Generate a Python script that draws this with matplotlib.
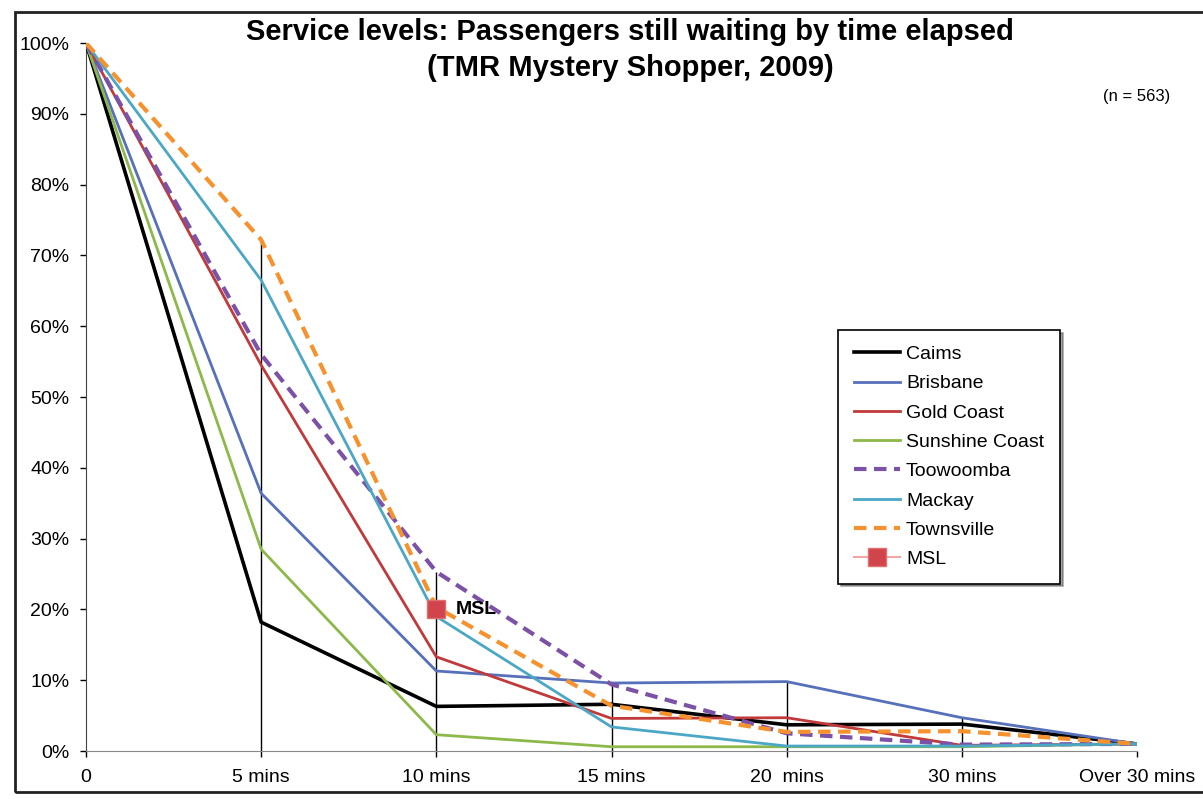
import matplotlib.pyplot as plt
from matplotlib.patches import Rectangle

plt.rcParams['font.family'] = ['Liberation Sans', 'DejaVu Sans']

# categories along the x axis
cats = ['0', '5 mins', '10 mins', '15 mins', '20  mins', '30 mins', 'Over 30 mins']

# percent of passengers still waiting
cairns    = [100, 18.2, 6.3, 6.6, 3.7, 3.8, 1.0]
brisbane  = [100, 36.4, 11.3, 9.6, 9.8, 4.7, 1.0]
goldcoast = [100, 54.5, 13.3, 4.6, 4.7, 0.8, 1.0]
sunshine  = [100, 28.5, 2.3, 0.6, 0.6, 0.6, 1.0]
toowoomba = [100, 56.0, 25.3, 9.4, 2.5, 0.9, 1.0]
mackay    = [100, 66.5, 19.0, 3.4, 0.7, 0.7, 1.0]
townsvil  = [100, 72.2, 20.3, 6.4, 2.7, 2.8, 1.0]
msl_x = 2
msl_y = 20

xs = list(range(len(cats)))

fig = plt.figure(figsize=(12.03, 7.99), dpi=100)
ax = fig.add_axes([86/1203, 1-751/799, 1051/1203, 708/799])

# outer chart border
fig.patches.append(Rectangle((15/1203, 1-792/799), 1.2, 780/799, transform=fig.transFigure,
                             fill=False, edgecolor='#222222', linewidth=2))

# drop lines from the highest series down to the axis
allseries = [cairns, brisbane, goldcoast, sunshine, toowoomba, mackay, townsvil]
for i in xs[1:-1]:
    top = max(s[i] for s in allseries)
    ax.vlines(i, 0, top, color='black', linewidth=1.0, zorder=1)

ax.plot(xs, cairns, color='black', lw=2.6, label='Caims', zorder=3)
ax.plot(xs, brisbane, color='#5670BA', lw=2.0, label='Brisbane', zorder=3)
ax.plot(xs, goldcoast, color='#C0393B', lw=2.0, label='Gold Coast', zorder=3)
ax.plot(xs, sunshine, color='#8DB84A', lw=2.0, label='Sunshine Coast', zorder=3)
ax.plot(xs, toowoomba, color='#7B52A6', lw=3.0, ls=(0, (3, 1.8)), label='Toowoomba', zorder=3)
ax.plot(xs, mackay, color='#4AA7C6', lw=2.0, label='Mackay', zorder=3)
ax.plot(xs, townsvil, color='#F6922E', lw=3.0, ls=(0, (3, 1.8)), label='Townsville', zorder=3)
ax.plot([msl_x], [msl_y], color='#F2A6A6', lw=1.5, marker='s', markersize=13,
        markerfacecolor='#D2444C', markeredgecolor='#E07070', label='MSL', zorder=4)
ax.text(msl_x + 0.11, msl_y, 'MSL', fontsize=14, fontweight='bold', va='center', ha='left', zorder=5)

ax.set_xlim(0, 6)
ax.set_ylim(0, 100)
ax.set_yticks(range(0, 101, 10))
ax.set_yticklabels([str(v) + '%' for v in range(0, 101, 10)], fontsize=14)
ax.set_xticks(xs)
ax.set_xticklabels(cats, fontsize=14)
ax.tick_params(axis='y', length=4, width=1, pad=8)
ax.tick_params(axis='x', length=4, width=1, pad=9)
for s in ['top', 'right']:
    ax.spines[s].set_visible(False)
ax.spines['left'].set_color('#444444')
ax.spines['bottom'].set_color('#888888')

fig.text(0.524, 1-32/799, 'Service levels: Passengers still waiting by time elapsed',
         fontsize=21, fontweight='bold', ha='center', va='center')
fig.text(0.524, 1-68/799, '(TMR Mystery Shopper, 2009)',
         fontsize=21, fontweight='bold', ha='center', va='center')
fig.text(1137/1203, 1-97/799, '(n = 563)', fontsize=12, ha='center', va='center')

leg = ax.legend(loc='upper left', bbox_to_anchor=(838/1203, 1-330/799), bbox_transform=fig.transFigure,
                fontsize=14, frameon=True, shadow=True, fancybox=False, handlelength=2.4,
                handletextpad=0.3, labelspacing=0.6, borderpad=0.8, borderaxespad=0)
leg.get_frame().set_edgecolor('black')
leg.get_frame().set_linewidth(1.2)

fig.savefig('out.png', dpi=100)
plt.close()
